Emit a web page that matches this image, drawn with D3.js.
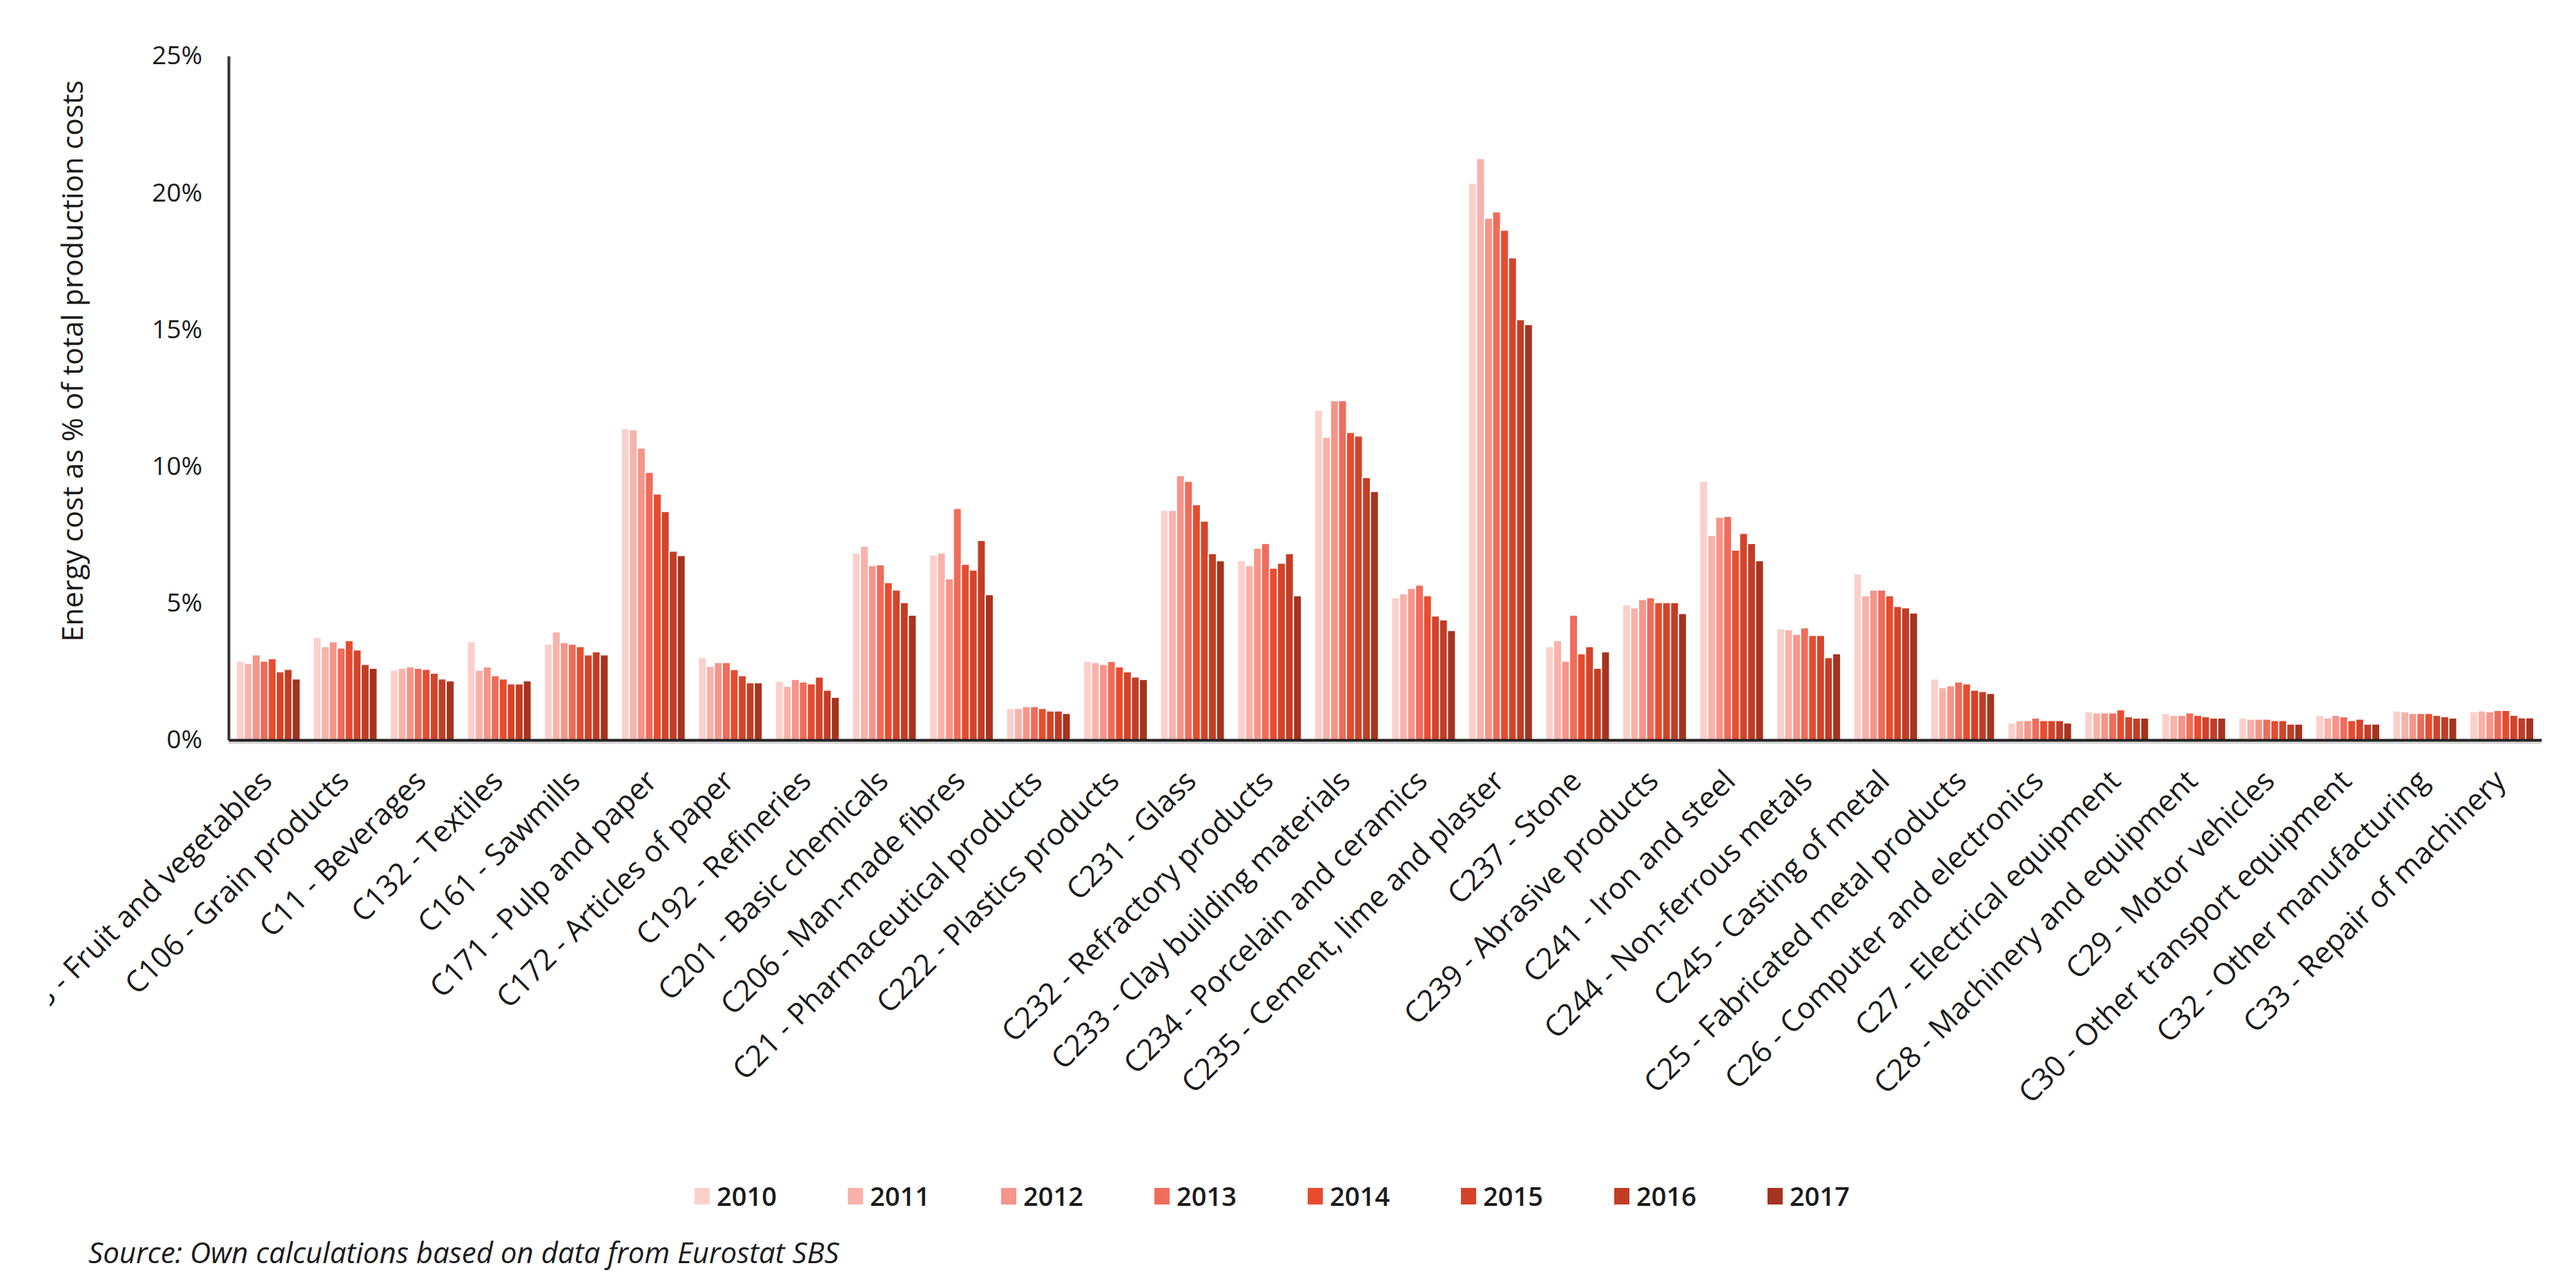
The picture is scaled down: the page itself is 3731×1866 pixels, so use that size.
<!DOCTYPE html>
<html>
<head>
<meta charset="utf-8">
<script src="https://cdn.jsdelivr.net/npm/d3@7"></script>
<style>
  body { margin: 0; background: #fff; }
  text { font-family: "Open Sans", "DejaVu Sans", sans-serif; fill: #1a1a1a; }
</style>
</head>
<body>
<div id="chart"></div>
<script>
const sectors = [
  "C103 - Fruit and vegetables", "C106 - Grain products", "C11 - Beverages", "C132 - Textiles",
  "C161 - Sawmills", "C171 - Pulp and paper", "C172 - Articles of paper", "C192 - Refineries",
  "C201 - Basic chemicals", "C206 - Man-made fibres", "C21 - Pharmaceutical products",
  "C222 - Plastics products", "C231 - Glass", "C232 - Refractory products",
  "C233 - Clay building materials", "C234 - Porcelain and ceramics", "C235 - Cement, lime and plaster",
  "C237 - Stone", "C239 - Abrasive products", "C241 - Iron and steel", "C244 - Non-ferrous metals",
  "C245 - Casting of metal", "C25 - Fabricated metal products", "C26 - Computer and electronics",
  "C27 - Electrical equipment", "C28 - Machinery and equipment", "C29 - Motor vehicles",
  "C30 - Other transport equipment", "C32 - Other manufacturing", "C33 - Repair of machinery"
];
const years = ["2010", "2011", "2012", "2013", "2014", "2015", "2016", "2017"];
const yearColors = ["#fbd0cb", "#f8b2aa", "#f6958a", "#f06c5b", "#e84c2f", "#d4442a", "#c33d25", "#a6331f"];
const yTicks = [0, 5, 10, 15, 20, 25];

// energy cost share (%) per sector, one value per year 2010..2017
const energyShare = [
  [2.88, 2.80, 3.11, 2.88, 2.97, 2.49, 2.58, 2.23],
  [3.75, 3.41, 3.59, 3.36, 3.63, 3.29, 2.76, 2.62],
  [2.55, 2.62, 2.67, 2.62, 2.58, 2.44, 2.23, 2.16],
  [3.59, 2.55, 2.67, 2.35, 2.23, 2.05, 2.05, 2.16],
  [3.50, 3.95, 3.56, 3.50, 3.41, 3.11, 3.22, 3.11],
  [11.38, 11.34, 10.67, 9.78, 8.99, 8.35, 6.90, 6.74],
  [3.01, 2.69, 2.83, 2.83, 2.57, 2.35, 2.09, 2.09],
  [2.14, 1.96, 2.21, 2.12, 2.05, 2.30, 1.82, 1.56],
  [6.83, 7.08, 6.37, 6.40, 5.75, 5.48, 5.02, 4.56],
  [6.76, 6.83, 5.89, 8.46, 6.42, 6.21, 7.29, 5.31],
  [1.15, 1.15, 1.22, 1.22, 1.15, 1.06, 1.06, 0.97],
  [2.87, 2.83, 2.76, 2.87, 2.67, 2.49, 2.30, 2.21],
  [8.39, 8.39, 9.66, 9.45, 8.60, 8.00, 6.81, 6.55],
  [6.55, 6.37, 7.01, 7.18, 6.28, 6.46, 6.81, 5.27],
  [12.05, 11.06, 12.40, 12.40, 11.24, 11.11, 9.59, 9.08],
  [5.20, 5.34, 5.54, 5.66, 5.27, 4.53, 4.39, 4.00],
  [20.35, 21.25, 19.07, 19.30, 18.63, 17.62, 15.36, 15.18],
  [3.41, 3.63, 2.88, 4.56, 3.15, 3.41, 2.62, 3.22],
  [4.94, 4.83, 5.13, 5.20, 5.02, 5.02, 5.02, 4.62],
  [9.45, 7.48, 8.14, 8.17, 6.94, 7.55, 7.18, 6.55],
  [4.07, 4.03, 3.86, 4.10, 3.82, 3.82, 3.01, 3.15],
  [6.07, 5.27, 5.48, 5.48, 5.27, 4.88, 4.83, 4.64],
  [2.23, 1.91, 1.98, 2.12, 2.05, 1.82, 1.77, 1.70],
  [0.62, 0.71, 0.71, 0.80, 0.71, 0.71, 0.71, 0.62],
  [1.03, 0.99, 0.99, 0.99, 1.10, 0.85, 0.80, 0.80],
  [0.97, 0.90, 0.90, 0.99, 0.90, 0.85, 0.80, 0.80],
  [0.81, 0.76, 0.76, 0.76, 0.71, 0.71, 0.58, 0.58],
  [0.90, 0.81, 0.90, 0.85, 0.71, 0.76, 0.58, 0.58],
  [1.06, 1.03, 0.97, 0.97, 0.97, 0.90, 0.85, 0.80],
  [1.03, 1.06, 1.03, 1.08, 1.08, 0.90, 0.81, 0.81]
];

const WIDTH = 3731, HEIGHT = 1866;
const MARGIN = {LEFT: 331, RIGHT: 50, TOP: 81, BOTTOM: 794};

const svg = d3.select("#chart").append("svg")
    .attr("width", WIDTH)
    .attr("height", HEIGHT)
    .style("background", "#fff");

// the original chart area cuts the first label at its left edge
svg.append("clipPath").attr("id", "labelClip")
  .append("rect")
    .attr("x", 72).attr("y", 0)
    .attr("width", WIDTH).attr("height", HEIGHT);

const x0 = d3.scaleBand()
    .domain(sectors)
    .range([MARGIN.LEFT, WIDTH - MARGIN.RIGHT])
    .paddingInner(0.17)
    .paddingOuter(0.1);

const x1 = d3.scaleBand()
    .domain(years)
    .range([0, x0.bandwidth()]);

const y = d3.scaleLinear()
    .domain([0, 25])
    .range([HEIGHT - MARGIN.BOTTOM, MARGIN.TOP]);

const color = d3.scaleOrdinal().domain(years).range(yearColors);

// bars
const groups = svg.append("g")
  .selectAll("g")
  .data(sectors)
  .join("g")
    .attr("transform", d => `translate(${x0(d)},0)`);

groups.selectAll("rect")
  .data((d, i) => years.map((yr, j) => ({year: yr, value: energyShare[i][j]})))
  .join("rect")
    .attr("x", d => x1(d.year))
    .attr("y", d => y(d.value))
    .attr("width", x1.bandwidth())
    .attr("height", d => y(0) - y(d.value))
    .attr("fill", d => color(d.year))
    .attr("stroke", "#fff")
    .attr("stroke-width", 1.6);

// y axis
const yAxis = d3.axisLeft(y)
    .tickValues(yTicks)
    .tickFormat(d => d + "%")
    .tickSize(0)
    .tickPadding(38);

svg.append("g")
    .attr("transform", `translate(${MARGIN.LEFT},0)`)
    .call(yAxis)
    .call(g => g.select(".domain").attr("stroke", "#333").attr("stroke-width", 4))
    .call(g => g.selectAll("text")
        .style("font-family", "'Open Sans', sans-serif")
        .style("font-size", "37px")
        .attr("fill", "#1a1a1a"));

// x axis
const xAxis = d3.axisBottom(x0).tickSize(0).tickSizeOuter(0).tickFormat("");
svg.append("line")
    .attr("x1", MARGIN.LEFT).attr("x2", WIDTH - MARGIN.RIGHT)
    .attr("y1", y(0) + 4).attr("y2", y(0) + 4)
    .attr("stroke", "#d9d9d9").attr("stroke-width", 4);
svg.append("g")
    .attr("transform", `translate(0,${y(0)})`)
    .call(xAxis)
    .call(g => g.select(".domain").attr("stroke", "#222").attr("stroke-width", 4));

// rotated category labels
svg.append("g")
    .attr("clip-path", "url(#labelClip)")
  .selectAll("text")
  .data(sectors)
  .join("text")
    .attr("transform", d => `translate(${x0(d) + x0.bandwidth() / 2 + 8},${y(0) + 62}) rotate(-45)`)
    .attr("text-anchor", "end")
    .style("font-size", "43px")
    .text(d => d);

// y axis title
svg.append("text")
    .attr("transform", `translate(120,523) rotate(-90)`)
    .attr("text-anchor", "middle")
    .style("font-size", "42px")
    .text("Energy cost as % of total production costs");

// legend
const legend = svg.append("g")
  .selectAll("g")
  .data(years)
  .join("g")
    .attr("transform", (d, i) => `translate(${1006 + i * 222},1733)`);

legend.append("rect")
    .attr("x", 0).attr("y", -12)
    .attr("width", 22).attr("height", 24)
    .attr("fill", d => color(d));

legend.append("text")
    .attr("x", 32).attr("dy", "0.36em")
    .style("font-size", "38px")
    .style("font-weight", "600")
    .text(d => d);

// source note
svg.append("text")
    .attr("x", 128).attr("y", 1830)
    .style("font-size", "42px")
    .style("font-style", "italic")
    .text("Source: Own calculations based on data from Eurostat SBS");
</script>
</body>
</html>
